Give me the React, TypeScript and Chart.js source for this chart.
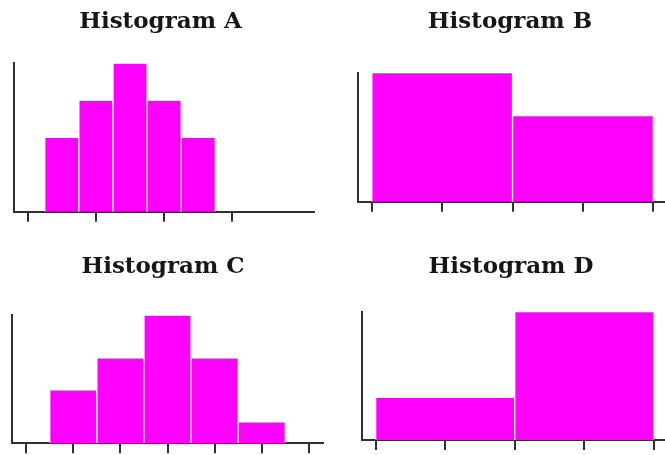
import React, { useEffect, useRef } from "react";
import { Chart, registerables } from "chart.js";

Chart.register(...registerables);

// ---- data (x in bin units, ticks in the same units) ----
const TITLE_A = "Histogram A";
const BINS_A = [0.5, 1, 1.5, 2, 2.5];
const COUNTS_A = [2, 3, 4, 3, 2];
const TICKS_A = [0, 1, 2, 3];
const RANGE_A = [-0.2, 4.2];

const TITLE_B = "Histogram B";
const BINS_B = [1, 3];
const COUNTS_B = [3, 2];
const TICKS_B = [0, 1, 2, 3, 4];
const RANGE_B = [-0.2, 4.2];

const TITLE_C = "Histogram C";
const BINS_C = [1, 2, 3, 4, 5];
const COUNTS_C = [5, 8, 12, 8, 2];
const TICKS_C = [0, 1, 2, 3, 4, 5, 6];
const RANGE_C = [-0.3, 6.3];

const TITLE_D = "Histogram D";
const BINS_D = [1, 3];
const COUNTS_D = [1, 3];
const TICKS_D = [0, 1, 2, 3, 4];
const RANGE_D = [-0.2, 4.2];

// ---- styles ----
const BAR_COLOR = "#ff00ff";
const AXIS_COLOR = "#303030";
const TITLE_COLOR = "#161616";

type Panel = {
  title: string;
  bins: number[];
  counts: number[];
  ticks: number[];
  range: number[];
  box: { left: number; top: number; w: number; h: number };
  pad: { left: number; right: number; top: number; bottom: number };
  yW: number;
  titlePad: { top: number; bottom: number };
};

const PANELS: Panel[] = [
  {
    title: TITLE_A, bins: BINS_A, counts: COUNTS_A, ticks: TICKS_A, range: RANGE_A,
    box: { left: 0, top: 0, w: 335, h: 230 },
    pad: { left: 6.7, right: 20.7, top: 0, bottom: 8.3 }, yW: 7.3,
    titlePad: { top: 7.9, bottom: 27.5 },
  },
  {
    title: TITLE_B, bins: BINS_B, counts: COUNTS_B, ticks: TICKS_B, range: RANGE_B,
    box: { left: 335, top: 0, w: 335, h: 230 },
    pad: { left: 17.6, right: 2.6, top: 0, bottom: 18.3 }, yW: 5.1,
    titlePad: { top: 7.9, bottom: 37.2 },
  },
  {
    title: TITLE_C, bins: BINS_C, counts: COUNTS_C, ticks: TICKS_C, range: RANGE_C,
    box: { left: 0, top: 230, w: 335, h: 225 },
    pad: { left: 3, right: 12, top: 0, bottom: 1.7 }, yW: 9,
    titlePad: { top: 23.6, bottom: 33.8 },
  },
  {
    title: TITLE_D, bins: BINS_D, counts: COUNTS_D, ticks: TICKS_D, range: RANGE_D,
    box: { left: 335, top: 230, w: 335, h: 225 },
    pad: { left: 19.3, right: 2.3, top: 0, bottom: 5 }, yW: 7.4,
    titlePad: { top: 23.6, bottom: 30.5 },
  },
];

function HistPanel({ p }: { p: Panel }) {
  const ref = useRef<HTMLCanvasElement | null>(null);
  useEffect(() => {
    if (!ref.current) return;
    const chart = new Chart(ref.current, {
      type: "bar",
      data: {
        datasets: [
          {
            data: p.bins.map((x, i) => ({ x, y: p.counts[i] })),
            backgroundColor: BAR_COLOR,
            borderColor: "#ffffff",
            borderWidth: 1,
            borderSkipped: "start",
            barPercentage: 1,
            categoryPercentage: 1,
            xAxisID: "xb",
            yAxisID: "y",
          } as any,
        ],
      },
      options: {
        animation: false,
        responsive: false,
        devicePixelRatio: 1,
        events: [],
        layout: { padding: p.pad, autoPadding: false } as any,
        plugins: {
          legend: { display: false },
          tooltip: { enabled: false },
          title: {
            display: true,
            text: p.title,
            color: TITLE_COLOR,
            font: { family: "DejaVu Serif", size: 23, weight: "bold", lineHeight: 1.2 },
            padding: p.titlePad,
          },
        },
        scales: {
          xb: {
            type: "linear",
            display: false,
            min: p.range[0],
            max: p.range[1],
            offset: false,
            grid: { offset: false },
            ticks: { display: false },
            afterBuildTicks: (s: any) => {
              s.ticks = [];
            },
          },
          x: {
            type: "linear",
            position: "bottom",
            min: p.range[0],
            max: p.range[1],
            offset: false,
            ticks: { display: false },
            afterBuildTicks: (s: any) => {
              s.ticks = p.ticks.map((v) => ({ value: v }));
            },
            grid: {
              display: true,
              offset: false,
              drawOnChartArea: false,
              drawTicks: true,
              tickLength: 10,
              lineWidth: 2,
              color: AXIS_COLOR,
            },
            border: { display: true, width: 2, color: AXIS_COLOR },
          },
          y: {
            type: "linear",
            min: 0,
            max: Math.max(...p.counts),
            ticks: { display: false },
            grid: { display: false, drawTicks: false, lineWidth: 2 },
            border: { display: true, width: 2, color: AXIS_COLOR },
            afterFit: (s: any) => {
              s.width = p.yW;
            },
          },
        } as any,
      },
    });
    return () => chart.destroy();
  }, [p]);
  return (
    <canvas
      ref={ref}
      width={p.box.w}
      height={p.box.h}
      style={{
        position: "absolute",
        left: p.box.left,
        top: p.box.top,
        width: p.box.w,
        height: p.box.h,
        display: "block",
      }}
    />
  );
}

export default function App() {
  return (
    <div
      style={{
        position: "absolute",
        left: 0,
        top: 0,
        width: 665,
        height: 455,
        overflow: "hidden",
        background: "#ffffff",
      }}
    >
      {PANELS.map((p) => (
        <HistPanel key={p.title} p={p} />
      ))}
    </div>
  );
}
